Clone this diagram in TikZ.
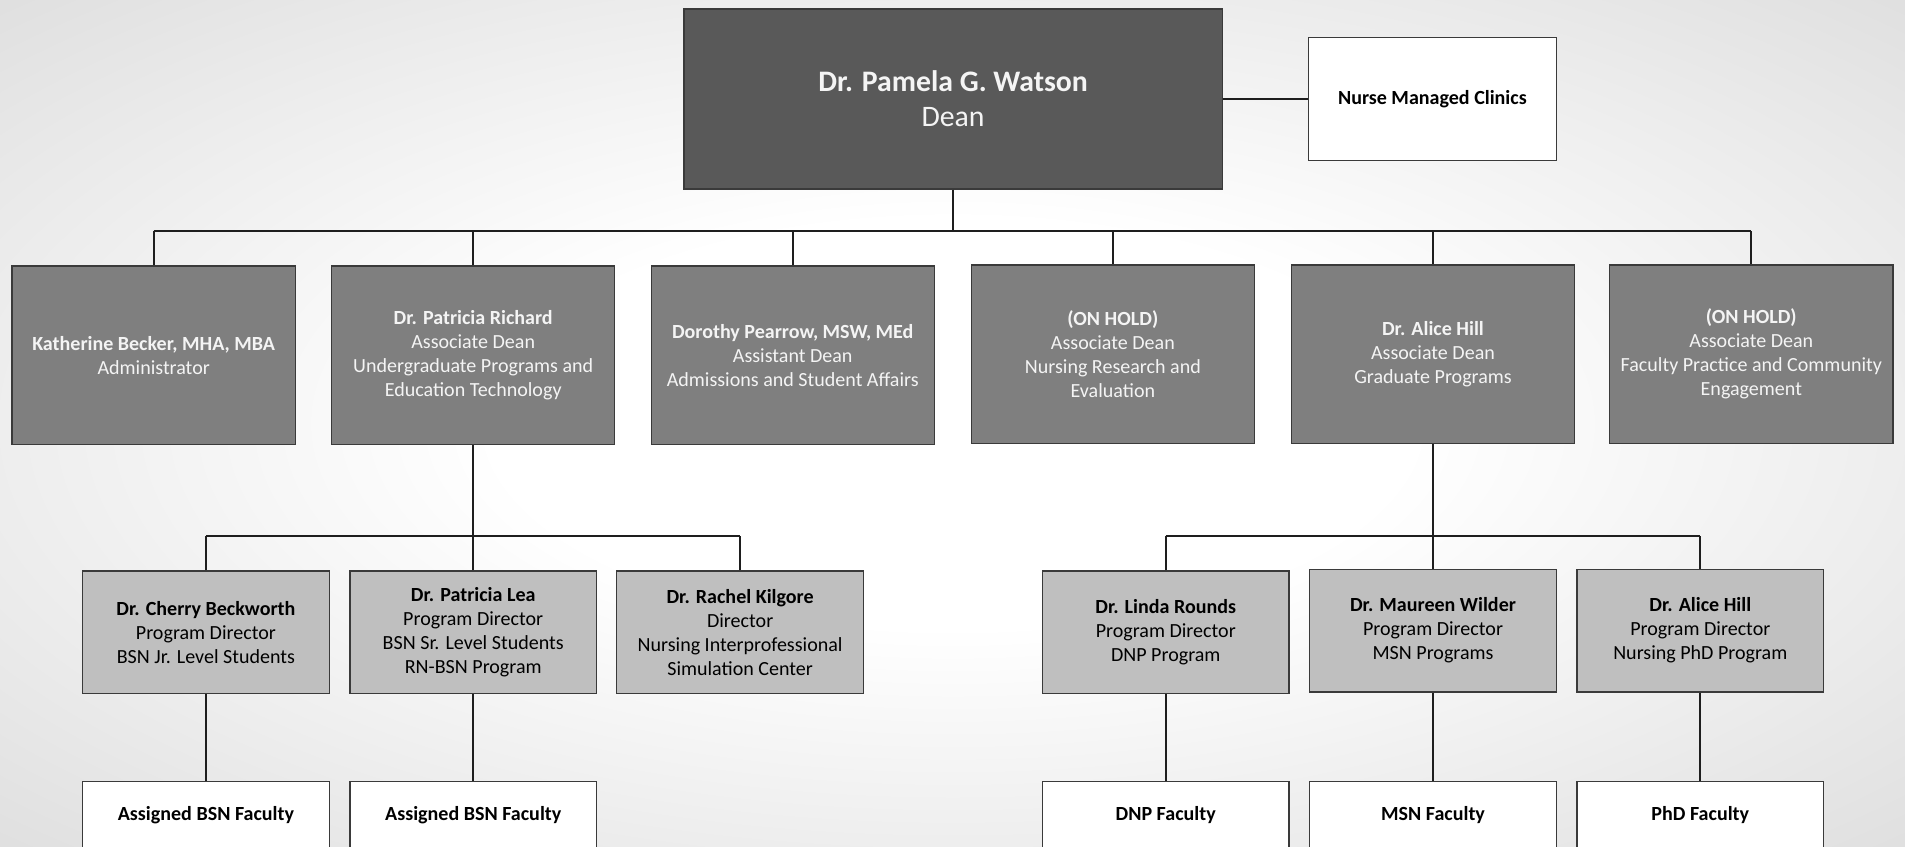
\documentclass[tikz,border=0pt]{standalone}
\usepackage{fontspec}
\setmainfont{Carlito}
\definecolor{deanfill}{HTML}{595959}
\definecolor{midfill}{HTML}{7F7F7F}
\definecolor{lightfill}{HTML}{BFBFBF}
\definecolor{boxline}{HTML}{3A3A3A}
\definecolor{linecol}{HTML}{1E1E1E}
\definecolor{softwhite}{HTML}{F4F4F4}
\pgfdeclareradialshading{bgshade}{\pgfpoint{0bp}{0bp}}{color(0bp)=(white); color(12bp)=(white); color(50bp)=(black!20); color(75bp)=(black!28)}
\tikzset{
  base/.style={rectangle, draw=boxline, line width=1.1pt, inner sep=2pt, align=center,
    font=\fontsize{16.5}{19.7}\selectfont},
  deanbox/.style={base, fill=deanfill, text=softwhite, minimum width=443pt, minimum height=148pt,
    font=\fontsize{24.5}{29}\selectfont},
  clinicbox/.style={base, fill=white, text=black, minimum width=204pt, minimum height=101pt,
    font=\fontsize{16.5}{19.7}\selectfont},
  rowtwo/.style={base, fill=midfill, text=softwhite, minimum width=233pt, minimum height=147pt},
  rowthree/.style={base, fill=lightfill, text=black, minimum width=203pt, minimum height=101pt},
  facbox/.style={base, fill=white, text=black, minimum width=203pt, minimum height=56pt},
  link/.style={draw=linecol, line width=1.5pt}
}
\begin{document}
\begin{tikzpicture}[x=1pt,y=-1pt]
\useasboundingbox (0,0) rectangle (1568,697);
\clip (0,0) rectangle (1568,697);
\shade[shading=bgshade] (0,0) rectangle (1568,697);

% top
\node[deanbox] (dean) at (784.5,81.5) {\textbf{Dr. Pamela G. Watson}\\Dean};
\node[clinicbox] (clinic) at (1179,81.5) {\textbf{Nurse Managed Clinics}};

% second row
\node[rowtwo] (becker) at (126.5,292.5) {\textbf{Katherine Becker, MHA, MBA}\\Administrator};
\node[rowtwo] (richard) at (389.5,292.5) {\textbf{Dr. Patricia Richard}\\Associate Dean\\Undergraduate Programs and\\Education Technology};
\node[rowtwo] (pearrow) at (652.5,292.5) {\textbf{Dorothy Pearrow, MSW, MEd}\\Assistant Dean\\Admissions and Student Affairs};
\node[rowtwo] (research) at (916,291.5) {\textbf{(ON HOLD)}\\Associate Dean\\Nursing Research and\\Evaluation};
\node[rowtwo] (hill) at (1179.5,291.5) {\textbf{Dr. Alice Hill}\\Associate Dean\\Graduate Programs};
\node[rowtwo] (practice) at (1441.5,291.5) {\textbf{(ON HOLD)}\\Associate Dean\\Faculty Practice and Community\\Engagement};

% third row
\node[rowthree] (beckworth) at (169.5,520.5) {\textbf{Dr. Cherry Beckworth}\\Program Director\\BSN Jr. Level Students};
\node[rowthree] (lea) at (389.5,520.5) {\textbf{Dr. Patricia Lea}\\Program Director\\BSN Sr. Level Students\\RN-BSN Program};
\node[rowthree] (kilgore) at (609.2,520.5) {\textbf{Dr. Rachel Kilgore}\\Director\\Nursing Interprofessional\\Simulation Center};
\node[rowthree] (rounds) at (959.5,520.5) {\textbf{Dr. Linda Rounds}\\Program Director\\DNP Program};
\node[rowthree] (wilder) at (1179.5,519) {\textbf{Dr. Maureen Wilder}\\Program Director\\MSN Programs};
\node[rowthree] (phd) at (1399.5,519) {\textbf{Dr. Alice Hill}\\Program Director\\Nursing PhD Program};

% fourth row
\node[facbox] (bsnjr) at (169.5,671) {\textbf{Assigned BSN Faculty}};
\node[facbox] (bsnsr) at (389.5,671) {\textbf{Assigned BSN Faculty}};
\node[facbox] (dnpfac) at (959.5,671) {\textbf{DNP Faculty}};
\node[facbox] (msnfac) at (1179.5,671) {\textbf{MSN Faculty}};
\node[facbox] (phdfac) at (1399.5,671) {\textbf{PhD Faculty}};

% bus coordinates
\coordinate (busA) at (784.5,190);
\coordinate (busB) at (389.5,441);
\coordinate (busC) at (1179.5,441);

% connectors
\draw[link] (dean.east) -- (clinic.west);
\draw[link] (dean.south) -- (busA);
\draw[link] (becker.north |- busA) -- (practice.north |- busA);
\foreach \n in {becker,richard,pearrow,research,hill,practice}
  \draw[link] (\n.north) -- (\n.north |- busA);

\draw[link] (richard.south) -- (busB);
\draw[link] (beckworth.north |- busB) -- (kilgore.north |- busB);
\foreach \n in {beckworth,lea,kilgore}
  \draw[link] (\n.north) -- (\n.north |- busB);

\draw[link] (hill.south) -- (busC);
\draw[link] (rounds.north |- busC) -- (phd.north |- busC);
\foreach \n in {rounds,wilder,phd}
  \draw[link] (\n.north) -- (\n.north |- busC);

\draw[link] (beckworth.south) -- (bsnjr.north);
\draw[link] (lea.south) -- (bsnsr.north);
\draw[link] (rounds.south) -- (dnpfac.north);
\draw[link] (wilder.south) -- (msnfac.north);
\draw[link] (phd.south) -- (phdfac.north);
\end{tikzpicture}
\end{document}
